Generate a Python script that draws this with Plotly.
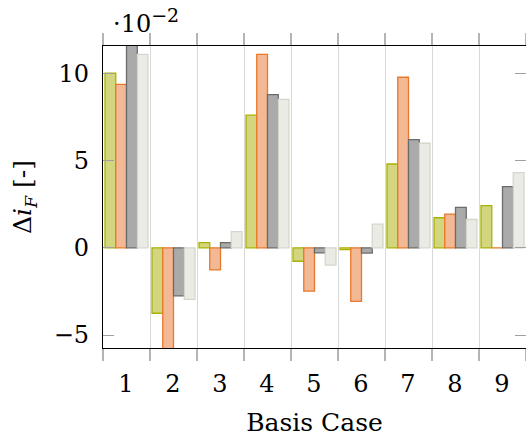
import plotly.graph_objects as go

cases = [1, 2, 3, 4, 5, 6, 7, 8, 9]

# Change in i_F per basis case (units of 1e-2)
series_a = [10.0, -3.75, 0.3, 7.6, -0.77, -0.1, 4.8, 1.72, 2.42]
series_b = [9.36, -6.2, -1.27, 11.08, -2.48, -3.07, 9.77, 1.93, 0.0]
series_c = [12.2, -2.75, 0.3, 8.77, -0.29, -0.3, 6.2, 2.31, 3.51]
series_d = [11.08, -2.96, 0.93, 8.5, -0.99, 1.36, 5.99, 1.62, 4.31]

series = [
    ("A", series_a, "#d3d67e", "#a9b200"),
    ("B", series_b, "#f2b994", "#e8792a"),
    ("C", series_c, "#aaaaaa", "#6b6b6b"),
    ("D", series_d, "#ebebe5", "#d6d6cc"),
]

fig = go.Figure()
for name, vals, fill, edge in series:
    fig.add_trace(go.Bar(
        x=cases, y=vals, name=name,
        marker=dict(color=fill, line=dict(color=edge, width=1.3)),
    ))

serif = "DejaVu Serif"
x_range = [0.5, 9.5]
# ticks sit on the category boundaries; each label is shifted to its category centre
separators = [c - 0.5 for c in cases] + [cases[-1] + 0.5]
separator_text = [str(c) for c in cases] + [""]

fig.update_layout(
    width=526, height=438,
    margin=dict(l=103, r=0, t=46, b=90),
    paper_bgcolor="white", plot_bgcolor="white",
    barmode="group", bargap=0.085, bargroupgap=0,
    showlegend=False,
    font=dict(family=serif, size=24, color="black"),
    xaxis=dict(
        range=x_range,
        tickvals=separators,
        ticktext=separator_text,
        ticklabelshift=23,
        ticklabelstandoff=2,
        ticks="outside", ticklen=12, tickcolor="#b4b4b4", tickwidth=1.5,
        showgrid=True, gridcolor="#d9d9d9", gridwidth=1,
        zeroline=False,
        showline=True, linecolor="black", linewidth=1.3,
        mirror="allticks",
        tickfont=dict(family=serif, size=24),
        title=dict(text="Basis Case", font=dict(family=serif, size=25), standoff=16),
    ),
    yaxis=dict(
        range=[-5.74, 11.56],
        tickvals=[-5, 0, 5, 10],
        ticktext=["\u22125", "0", "5", "10"],
        ticks="inside", ticklen=11, tickcolor="#a0a0a0", tickwidth=1.3,
        showgrid=False, zeroline=False,
        showline=True, linecolor="black", linewidth=1.3,
        mirror="ticks",
        ticklabelstandoff=8,
        tickfont=dict(family=serif, size=24),
        title=dict(text="\u0394<i>i</i><sub><i>F</i></sub> [-]",
                   font=dict(family=serif, size=25), standoff=14),
    ),
)

fig.add_annotation(
    text="\u00b710<sup><span style='font-size:19px'>\u22122</span></sup>",
    xref="paper", yref="paper", x=0, y=1,
    xanchor="left", yanchor="bottom", xshift=8, yshift=6,
    showarrow=False, font=dict(family=serif, size=24),
)

fig.write_html("out.html")
